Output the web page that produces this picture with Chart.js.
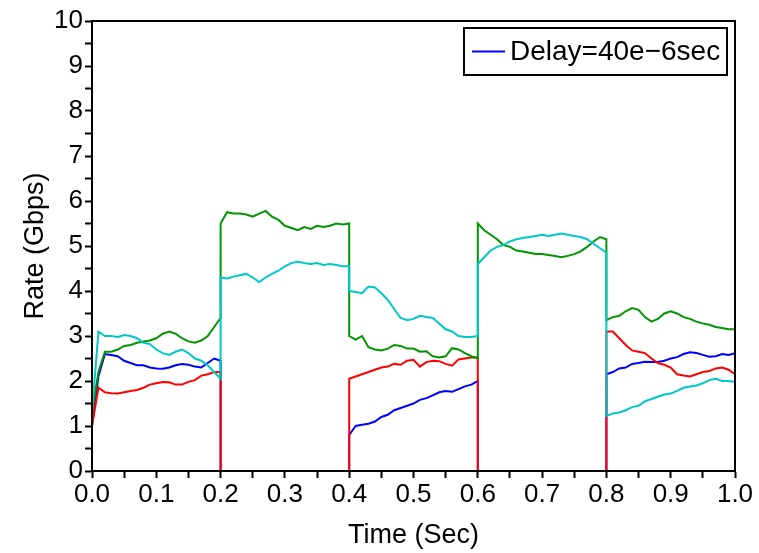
<!DOCTYPE html>
<html>
<head>
<meta charset="utf-8">
<title>Rate vs Time</title>
<script src="https://cdn.jsdelivr.net/npm/chart.js@4.4.0/dist/chart.umd.min.js"></script>
<style>
  html, body { margin: 0; padding: 0; background: #fff; }
  canvas { display: block; }
</style>
</head>
<body>
<canvas id="rateChart" width="759" height="553"></canvas>
<script>
// Sample times (sec): five 0.2 s phases, each phase repeats its edge time
// so the switch between phases is drawn as a vertical jump
const time = [
  0.00, 0.01, 0.02, 0.03, 0.04, 0.05, 0.06, 0.07, 0.08, 0.09, 0.10, 0.11, 0.12, 0.13, 0.14, 0.15, 0.16, 0.17, 0.18, 0.19, 0.20,
  0.20, 0.21, 0.22, 0.23, 0.24, 0.25, 0.26, 0.27, 0.28, 0.29, 0.30, 0.31, 0.32, 0.33, 0.34, 0.35, 0.36, 0.37, 0.38, 0.39, 0.40,
  0.40, 0.41, 0.42, 0.43, 0.44, 0.45, 0.46, 0.47, 0.48, 0.49, 0.50, 0.51, 0.52, 0.53, 0.54, 0.55, 0.56, 0.57, 0.58, 0.59, 0.60,
  0.60, 0.61, 0.62, 0.63, 0.64, 0.65, 0.66, 0.67, 0.68, 0.69, 0.70, 0.71, 0.72, 0.73, 0.74, 0.75, 0.76, 0.77, 0.78, 0.79, 0.80,
  0.80, 0.81, 0.82, 0.83, 0.84, 0.85, 0.86, 0.87, 0.88, 0.89, 0.90, 0.91, 0.92, 0.93, 0.94, 0.95, 0.96, 0.97, 0.98, 0.99, 1.00
];

// Rates in Gbps, one row per phase
const blueRate = [
  1.0, 2.1, 2.6, 2.58, 2.55, 2.45, 2.4, 2.35, 2.35, 2.3, 2.28, 2.27, 2.3, 2.35, 2.38, 2.36, 2.32, 2.3, 2.4, 2.5, 2.45,
  0, 0, 0, 0, 0, 0, 0, 0, 0, 0, 0, 0, 0, 0, 0, 0, 0, 0, 0, 0, 0,
  0.8, 1.0, 1.03, 1.05, 1.1, 1.2, 1.25, 1.35, 1.4, 1.45, 1.5, 1.58, 1.62, 1.68, 1.75, 1.78, 1.76, 1.82, 1.88, 1.92, 2.0,
  0, 0, 0, 0, 0, 0, 0, 0, 0, 0, 0, 0, 0, 0, 0, 0, 0, 0, 0, 0, 0,
  2.15, 2.2, 2.28, 2.3, 2.38, 2.4, 2.43, 2.42, 2.42, 2.45, 2.5, 2.53, 2.6, 2.64, 2.62, 2.58, 2.54, 2.55, 2.6, 2.58, 2.62
];

const redRate = [
  1.0, 1.85, 1.75, 1.73, 1.72, 1.75, 1.78, 1.8, 1.85, 1.92, 1.95, 1.98, 1.97, 1.92, 1.92, 1.98, 2.02, 2.12, 2.15, 2.2, 2.2,
  0, 0, 0, 0, 0, 0, 0, 0, 0, 0, 0, 0, 0, 0, 0, 0, 0, 0, 0, 0, 0,
  2.05, 2.1, 2.15, 2.2, 2.25, 2.3, 2.32, 2.38, 2.36, 2.45, 2.47, 2.32, 2.42, 2.45, 2.44, 2.38, 2.34, 2.48, 2.5, 2.52, 2.52,
  0, 0, 0, 0, 0, 0, 0, 0, 0, 0, 0, 0, 0, 0, 0, 0, 0, 0, 0, 0, 0,
  3.1, 3.1, 2.95, 2.8, 2.68, 2.65, 2.62, 2.5, 2.4, 2.36, 2.3, 2.15, 2.12, 2.1, 2.15, 2.2, 2.22, 2.28, 2.3, 2.25, 2.15
];

const greenRate = [
  1.3, 2.2, 2.65, 2.65, 2.7, 2.78, 2.8, 2.85, 2.88, 2.9, 2.95, 3.05, 3.1, 3.05, 2.95, 2.88, 2.85, 2.9, 3.0, 3.2, 3.4,
  5.5, 5.75, 5.72, 5.72, 5.7, 5.65, 5.72, 5.78, 5.65, 5.58, 5.45, 5.4, 5.35, 5.42, 5.38, 5.45, 5.42, 5.45, 5.5, 5.48, 5.5,
  3.0, 2.92, 3.0, 2.75, 2.7, 2.68, 2.72, 2.8, 2.78, 2.72, 2.72, 2.65, 2.66, 2.55, 2.52, 2.55, 2.73, 2.7, 2.62, 2.55, 2.5,
  5.5, 5.35, 5.25, 5.15, 5.02, 4.98, 4.9, 4.88, 4.85, 4.82, 4.82, 4.8, 4.78, 4.75, 4.78, 4.82, 4.88, 4.98, 5.1, 5.2, 5.15,
  3.35, 3.42, 3.45, 3.55, 3.62, 3.58, 3.42, 3.32, 3.38, 3.5, 3.55, 3.5, 3.42, 3.38, 3.32, 3.28, 3.25, 3.2, 3.18, 3.15, 3.15
];

const cyanRate = [
  1.3, 3.1, 3.0, 3.0, 2.98, 3.02, 3.0, 2.95, 2.85, 2.82, 2.7, 2.62, 2.58, 2.65, 2.7, 2.62, 2.5, 2.45, 2.35, 2.2, 2.05,
  4.3, 4.28, 4.32, 4.35, 4.38, 4.3, 4.2, 4.3, 4.38, 4.45, 4.55, 4.62, 4.65, 4.62, 4.6, 4.62, 4.58, 4.6, 4.58, 4.55, 4.55,
  4.0, 3.98, 3.95, 4.1, 4.08, 3.95, 3.8, 3.6, 3.4, 3.35, 3.38, 3.45, 3.42, 3.4, 3.28, 3.15, 3.1, 3.0, 2.98, 2.98, 3.0,
  4.6, 4.75, 4.9, 4.98, 5.02, 5.1, 5.15, 5.18, 5.2, 5.22, 5.25, 5.22, 5.25, 5.28, 5.25, 5.22, 5.2, 5.15, 5.05, 4.95, 4.85,
  1.22, 1.28, 1.3, 1.35, 1.42, 1.45, 1.55, 1.6, 1.65, 1.7, 1.72, 1.78, 1.85, 1.88, 1.9, 1.95, 2.02, 2.05, 2.0, 2.0, 1.98
];

const legendLabel = 'Delay=40e\u22126sec';
const fontFamily = '"Liberation Sans", Arial, sans-serif';

function points(values) {
  return values.map((v, i) => ({ x: time[i], y: v }));
}

function lineSet(label, values, color) {
  return {
    label: label,
    data: points(values),
    borderColor: color,
    backgroundColor: color,
    borderWidth: 2,
    pointRadius: 0,
    tension: 0,
    fill: false
  };
}

// black box round the plot area, drawn over the lines so zero rates sit under the axis
const frame = {
  id: 'frame',
  afterDatasetsDraw(chart) {
    const { ctx, chartArea } = chart;
    ctx.save();
    ctx.strokeStyle = '#000';
    ctx.lineWidth = 2;
    ctx.strokeRect(chartArea.left, chartArea.top, chartArea.right - chartArea.left, chartArea.bottom - chartArea.top);
    ctx.restore();
  }
};

// boxed legend in the top right corner, showing only the blue trace
const boxedLegend = {
  id: 'boxedLegend',
  afterDraw(chart) {
    const { ctx, chartArea } = chart;
    const ds = chart.data.datasets.find(d => d.label === legendLabel);
    const w = 263, h = 47;
    const x = chartArea.right - 8 - w;
    const y = chartArea.top + 7;
    ctx.save();
    ctx.fillStyle = '#fff';
    ctx.fillRect(x, y, w, h);
    ctx.strokeStyle = '#000';
    ctx.lineWidth = 2;
    ctx.strokeRect(x, y, w, h);
    ctx.strokeStyle = ds.borderColor;
    ctx.beginPath();
    ctx.moveTo(x + 8, y + h / 2);
    ctx.lineTo(x + 41, y + h / 2);
    ctx.stroke();
    ctx.fillStyle = '#000';
    ctx.font = '28px ' + fontFamily;
    ctx.textBaseline = 'middle';
    ctx.fillText(ds.label, x + 46, y + h / 2 + 1);
    ctx.restore();
  }
};

const ctx = document.getElementById('rateChart').getContext('2d');
const rateChart = new Chart(ctx, {
  type: 'line',
  data: {
    // first dataset is drawn on top
    datasets: [
      lineSet('cyan', cyanRate, '#00c8c8'),
      lineSet('green', greenRate, '#009600'),
      lineSet('red', redRate, '#ff0000'),
      lineSet(legendLabel, blueRate, '#0000ff')
    ]
  },
  options: {
    responsive: false,
    animation: false,
    layout: { padding: { top: 21, right: 24, left: 0, bottom: 0 } },
    plugins: {
      legend: { display: false },
      tooltip: { enabled: false }
    },
    scales: {
      x: {
        type: 'linear',
        min: 0,
        max: 1,
        afterFit(scale) { scale.height = 82; },
        border: { color: '#000', width: 2 },
        grid: { drawOnChartArea: false, tickLength: 7, tickColor: '#000', tickWidth: 2 },
        ticks: {
          stepSize: 0.05,
          autoSkip: false,
          maxRotation: 0,
          padding: 1,
          color: '#000',
          font: { family: fontFamily, size: 26 },
          callback: v => Math.round(v * 100) % 10 === 0 ? v.toFixed(1) : ''
        },
        title: {
          display: true,
          text: 'Time (Sec)',
          color: '#000',
          font: { family: fontFamily, size: 27 },
          padding: { top: 0, bottom: 1 }
        }
      },
      y: {
        min: 0,
        max: 10,
        afterFit(scale) { scale.width = 92; },
        border: { color: '#000', width: 2 },
        grid: { drawOnChartArea: false, tickLength: 7, tickColor: '#000', tickWidth: 2 },
        ticks: {
          stepSize: 0.5,
          autoSkip: false,
          padding: 2,
          color: '#000',
          font: { family: fontFamily, size: 26 },
          callback: v => Number.isInteger(v) ? v : ''
        },
        title: {
          display: true,
          text: 'Rate (Gbps)',
          color: '#000',
          font: { family: fontFamily, size: 27 },
          padding: { top: 19, bottom: 0 }
        }
      }
    }
  },
  plugins: [frame, boxedLegend]
});
</script>
</body>
</html>
